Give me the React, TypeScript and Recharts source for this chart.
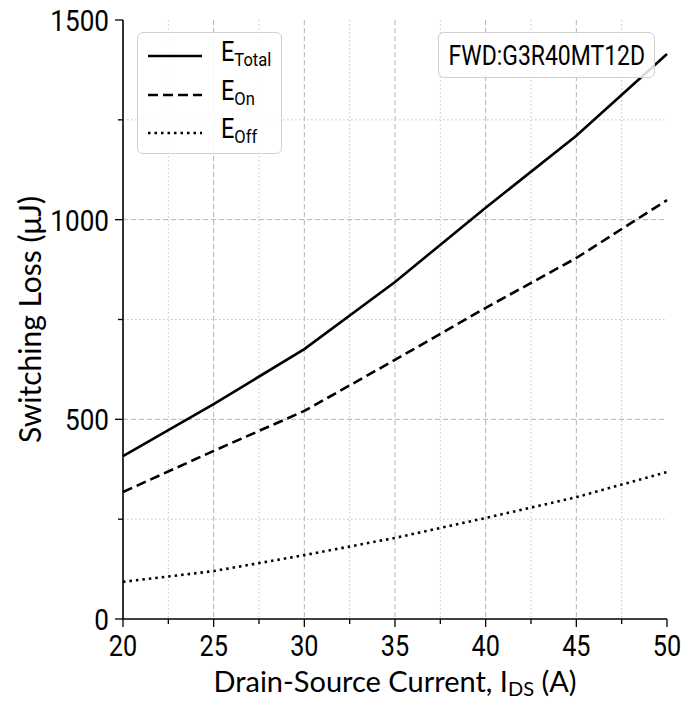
import React from "react";
import {
  LineChart,
  Line,
  XAxis,
  YAxis,
  CartesianGrid,
} from "recharts";

// Values (µJ)
const currents = [20, 25, 30, 35, 40, 45, 50];
const eTotal = [408, 538, 676, 844, 1030, 1210, 1415];
const eOn = [318, 421, 521, 649, 779, 904, 1049];
const eOff = [93, 120, 160, 203, 253, 305, 368];

const xMajor = [20, 25, 30, 35, 40, 45, 50];
const xMinor = [22.5, 27.5, 32.5, 37.5, 42.5, 47.5];
const yMajor = [0, 500, 1000, 1500];
const yMinor = [250, 750, 1250];

const data = currents.map((c, i) => ({
  ids: c,
  total: eTotal[i],
  on: eOn[i],
  off: eOff[i],
}));

const TICK_FONT = "Roboto, sans-serif";
const LABEL_FONT = "Lato, sans-serif";
const SQUEEZE = 0.87;

const series = [
  { key: "total", sub: "Total", dash: undefined },
  { key: "on", sub: "On", dash: "10 5" },
  { key: "off", sub: "Off", dash: "2.5 4" },
];

const XTick = ({ x, y, payload }: any) => {
  const major = xMajor.includes(payload.value);
  return (
    <g>
      <line x1={x} x2={x} y1={y} y2={y + (major ? 8 : 5)} stroke="#000" strokeWidth={1.3} />
      {major && (
        <text
          transform={`translate(${x},${y + 37}) scale(${SQUEEZE},1)`}
          textAnchor="middle"
          fontFamily={TICK_FONT}
          fontSize={29}
          fill="#000"
        >
          {payload.value}
        </text>
      )}
    </g>
  );
};

const YTick = ({ x, y, payload }: any) => {
  const major = yMajor.includes(payload.value);
  return (
    <g>
      <line x1={x} x2={x - (major ? 8 : 5)} y1={y} y2={y} stroke="#000" strokeWidth={1.3} />
      {major && (
        <text
          transform={`translate(${x - 14},${y + 11}) scale(${SQUEEZE},1)`}
          textAnchor="end"
          fontFamily={TICK_FONT}
          fontSize={30}
          fill="#000"
        >
          {payload.value}
        </text>
      )}
    </g>
  );
};

const LegendBox = () => (
  <div
    style={{
      position: "absolute",
      left: 137,
      top: 32,
      width: 145,
      height: 122,
      border: "1.5px solid #d0d0d0",
      borderRadius: 6,
      background: "rgba(255,255,255,0.85)",
      boxSizing: "border-box",
    }}
  >
    {series.map((s, i) => (
      <div
        key={s.key}
        style={{ position: "absolute", left: 9, top: 6 + i * 38.5, height: 34, display: "flex", alignItems: "center" }}
      >
        <svg width={56} height={10}>
          <line x1={1} x2={55} y1={5} y2={5} stroke="#000" strokeWidth={2.6} strokeDasharray={s.dash} />
        </svg>
        <span
          style={{
            marginLeft: 18,
            fontFamily: TICK_FONT,
            fontSize: 27,
            lineHeight: "30px",
            color: "#000",
            display: "inline-block",
            transform: `scaleX(${SQUEEZE})`,
            transformOrigin: "left center",
            whiteSpace: "nowrap",
          }}
        >
          E<sub style={{ fontSize: 19, verticalAlign: "-5px" }}>{s.sub}</sub>
        </span>
      </div>
    ))}
  </div>
);

export default function App() {
  return (
    <div style={{ position: "absolute", left: 0, top: 0, width: 698, height: 702, background: "#fff" }}>
      <LineChart
        width={698}
        height={702}
        data={data}
        margin={{ top: 20, right: 31, left: 0, bottom: 0 }}
      >
        <CartesianGrid
          verticalValues={xMinor}
          horizontalValues={yMinor}
          stroke="#c4c4c4"
          strokeDasharray="1.5 2.5"
          strokeWidth={1}
        />
        <CartesianGrid
          verticalValues={xMajor.slice(1, -1)}
          horizontalValues={yMajor.slice(1, -1)}
          stroke="#b4b4b4"
          strokeDasharray="5 3"
          strokeWidth={1}
        />
        <XAxis
          dataKey="ids"
          type="number"
          domain={[20, 50]}
          ticks={[...xMajor, ...xMinor].sort((a, b) => a - b)}
          interval={0}
          height={83}
          tickSize={0}
          tickMargin={0}
          tickLine={false}
          tick={<XTick />}
          axisLine={{ stroke: "#000", strokeWidth: 1.6 }}
          label={{
            content: ({ viewBox }: any) => (
              <text
                x={viewBox.x + viewBox.width / 2}
                y={692}
                textAnchor="middle"
                fontFamily={LABEL_FONT}
                fontSize={29}
                fill="#000"
              >
                Drain-Source Current, I
                <tspan fontSize={20} dy={4}>DS</tspan>
                <tspan dy={-4}> (A)</tspan>
              </text>
            ),
          }}
        />
        <XAxis
          xAxisId="top"
          orientation="top"
          dataKey="ids"
          type="number"
          domain={[20, 50]}
          height={0}
          tick={false}
          tickLine={false}
          axisLine={{ stroke: "#000", strokeWidth: 1.6 }}
        />
        <YAxis
          type="number"
          domain={[0, 1500]}
          ticks={[...yMajor, ...yMinor].sort((a, b) => a - b)}
          interval={0}
          width={123}
          tickSize={0}
          tickMargin={0}
          tickLine={false}
          tick={<YTick />}
          axisLine={{ stroke: "#000", strokeWidth: 1.6 }}
          label={{
            content: ({ viewBox }: any) => {
              const cy = viewBox.y + viewBox.height / 2;
              return (
                <text
                  x={41}
                  y={cy}
                  transform={`rotate(-90, 41, ${cy})`}
                  textAnchor="middle"
                  fontFamily={LABEL_FONT}
                  fontSize={30}
                  fill="#000"
                >
                  Switching Loss (μJ)
                </text>
              );
            },
          }}
        />
        <YAxis
          yAxisId="right"
          orientation="right"
          domain={[0, 1500]}
          width={0}
          tick={false}
          tickLine={false}
          axisLine={{ stroke: "#000", strokeWidth: 1.6 }}
        />
        {series.map((s) => (
          <Line
            key={s.key}
            dataKey={s.key}
            type="linear"
            stroke="#000"
            strokeWidth={2.6}
            strokeDasharray={s.dash}
            dot={false}
            isAnimationActive={false}
          />
        ))}
      </LineChart>
      <LegendBox />
      <div
        style={{
          position: "absolute",
          left: 438,
          top: 32,
          width: 217,
          height: 46,
          border: "1.5px solid #d0d0d0",
          borderRadius: 6,
          background: "rgba(255,255,255,0.85)",
          boxSizing: "border-box",
          display: "flex",
          alignItems: "center",
          justifyContent: "center",
        }}
      >
        <span
          style={{
            fontFamily: TICK_FONT,
            fontSize: 28,
            color: "#000",
            display: "inline-block",
            transform: `scaleX(${SQUEEZE - 0.05})`,
            whiteSpace: "nowrap",
          }}
        >
          FWD:G3R40MT12D
        </span>
      </div>
    </div>
  );
}
